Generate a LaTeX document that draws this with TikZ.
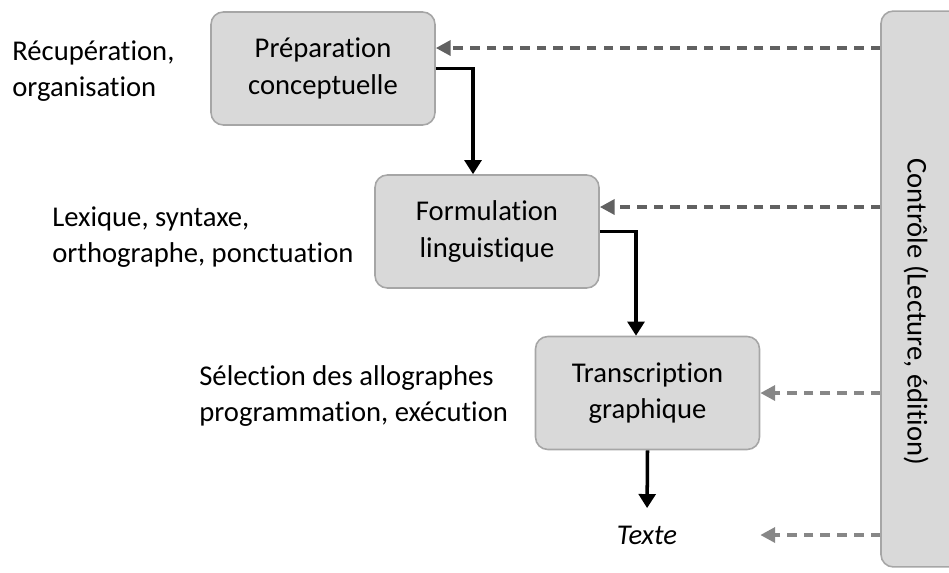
\documentclass[tikz,border=0pt]{standalone}
\usepackage{fontspec}
\setmainfont[Ligatures=NoCommon]{Carlito}
\usetikzlibrary{arrows.meta, positioning}
\tikzstyle{stage} = [draw=black!35, line width=0.9pt, fill=black!15, align=center, minimum width=4.48cm, minimum height=2.26cm, rounded corners=7pt]
\tikzstyle{ctrlbox} = [draw=black!35, line width=0.9pt, fill=black!15, minimum width=2.16cm, minimum height=11.12cm, rounded corners=7pt]
\tikzstyle{note} = [align=left, anchor=west, inner sep=0pt]
\tikzstyle{flow} = [draw, line width=2pt, color=black, -{Triangle[length=8pt, width=9.5pt]}]
\tikzstyle{check} = [draw, line width=2.2pt, color=black!62, dash pattern=on 5.5pt off 4pt, -{Triangle[length=8.5pt, width=8.5pt]}]
\tikzstyle{checklow} = [check, color=black!47]
\newcommand{\stage}[3]{
node (#1) [stage] at (#2) {#3}}
\newcommand{\note}[3]{
node (#1) [note] at (#2) {#3}}

\begin{document}
\begin{tikzpicture}[x=0.02cm, y=-0.02cm, font=\fontsize{16.3}{20.6}\selectfont]
		\useasboundingbox (0,0) rectangle (949,572);
		\clip (0,0) rectangle (949,572);

		% Draw diagram elements
		\path \stage{prep}{323,68.5}{Préparation\\conceptuelle};
		\path \stage{form}{487,231.5}{Formulation\\linguistique};
		\path \stage{trans}{647.5,393}{Transcription\\graphique};
		\path node (texte) at (647,535) {\itshape Texte};
		\path node (ctrl) [ctrlbox] at (935,289) {};
		\path node (ctrltxt) [rotate=-90] at (916,312) {Contrôle (Lecture, édition)};

		\path \note{nprep}{12,71}{Récupération,\\organisation};
		\path \note{nform}{52,237}{Lexique, syntaxe,\\orthographe, ponctuation};
		\path \note{ntrans}{199,396}{Sélection des allographes\\programmation, exécution};

		% Draw arrows between elements
		\draw [flow] (prep.east) -| ([xshift=-0.28cm]form.north);
		\draw [flow] (form.east) -| ([xshift=-0.23cm]trans.north);
		\draw [flow, shorten >=6.5pt] (trans.south) -- (texte.north);

		\coordinate (inprep) at ([yshift=0.41cm]prep.east);
		\coordinate (inform) at ([yshift=0.49cm]form.east);
		\draw [check] (ctrl.west |- inprep) -- (inprep);
		\draw [check] (ctrl.west |- inform) -- (inform);
		\draw [checklow] (ctrl.west |- trans.east) -- (trans.east);
		\draw [checklow] (ctrl.west |- texte) -- (trans.east |- texte);

	\end{tikzpicture}
\end{document}
